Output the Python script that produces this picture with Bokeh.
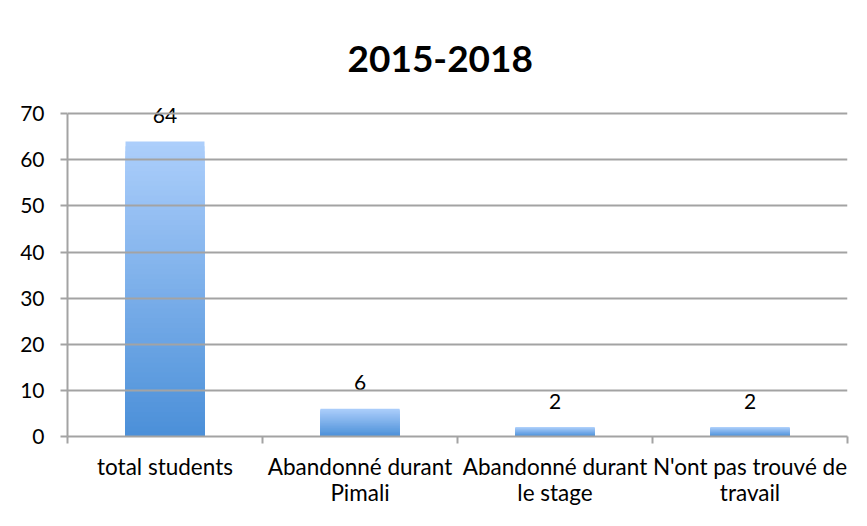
from bokeh.plotting import figure
from bokeh.models import Range1d, FixedTicker, ColumnDataSource
from bokeh.core.properties import value
from bokeh.embed import file_html
from bokeh.resources import INLINE

# ---- data ----
title_text = "2015-2018"
categories = ["total students", "Abandonné durant Pimali",
              "Abandonné durant le stage", "N'ont pas trouvé de travail"]
tick_labels = ["total students", "Abandonné durant\nPimali",
               "Abandonné durant\nle stage", "N'ont pas trouvé de\ntravail"]
values = [64, 6, 2, 2]
y_ticks = [0, 10, 20, 30, 40, 50, 60, 70]

FONT = "Lato"
GRAY = "#a3a3a3"

p = figure(width=851, height=510, output_backend="svg", toolbar_location=None,
           x_range=Range1d(0, len(categories)), y_range=Range1d(0, 72))
p.min_border_left = 67
p.min_border_right = 4
p.min_border_top = 104
p.min_border_bottom = 74
p.border_fill_color = "white"
p.background_fill_color = "white"
p.outline_line_color = None

# gradient bars (overlapping slices, lightest/tallest first)
top_rgb = (172, 206, 251)
bot_rgb = (74, 143, 216)
N = 60
xs, tops, cols = [], [], []
for k in range(N):
    frac = (N - k) / N
    c = tuple(int(round(b + (t - b) * frac)) for t, b in zip(top_rgb, bot_rgb))
    for i, v in enumerate(values):
        xs.append(i + 0.5)
        tops.append(v * frac)
        cols.append("#%02x%02x%02x" % c)
src = ColumnDataSource(dict(x=xs, top=tops, color=cols))
p.vbar(x="x", top="top", bottom=0, width=0.405, source=src,
       fill_color="color", line_color=None)

# value labels
lab = ColumnDataSource(dict(x=[i + 0.5 for i in range(len(values))], y=values,
                            t=[str(v) for v in values]))
p.text(x="x", y="y", text="t", source=lab, y_offset=-26,
       text_align="center", text_baseline="alphabetic",
       text_font=value(FONT), text_font_size="21px", text_color="black")

# grid
p.xgrid.grid_line_color = None
p.ygrid.grid_line_color = GRAY
p.ygrid.grid_line_width = 2
p.ygrid.bounds = (0, 70)
p.ygrid.level = "glyph"
p.ygrid.ticker = FixedTicker(ticks=y_ticks)

# y axis
p.yaxis.ticker = FixedTicker(ticks=y_ticks)
p.yaxis.bounds = (0, 70)
p.yaxis.axis_line_color = GRAY
p.yaxis.axis_line_width = 2
p.yaxis.major_tick_line_color = GRAY
p.yaxis.major_tick_line_width = 2
p.yaxis.major_tick_out = 7
p.yaxis.major_tick_in = 0
p.yaxis.minor_tick_line_color = None
p.yaxis.major_label_standoff = 16
p.yaxis.major_label_text_font = FONT
p.yaxis.major_label_text_font_size = "21px"
p.yaxis.major_label_text_color = "black"

# x axis: labels at centers, tick marks at boundaries
centers = [i + 0.5 for i in range(len(categories))]
bounds = [float(i) for i in range(len(categories) + 1)]
p.xaxis.ticker = FixedTicker(ticks=centers, minor_ticks=bounds)
p.xaxis.major_label_overrides = {c: l for c, l in zip(centers, tick_labels)}
p.xaxis.axis_line_color = GRAY
p.xaxis.axis_line_width = 2
p.xaxis.major_tick_line_color = None
p.xaxis.major_tick_out = 0
p.xaxis.major_tick_in = 0
p.xaxis.minor_tick_line_color = GRAY
p.xaxis.minor_tick_line_width = 2
p.xaxis.minor_tick_out = 7
p.xaxis.minor_tick_in = 0
p.xaxis.major_label_standoff = 9
p.xaxis.major_label_text_font = FONT
p.xaxis.major_label_text_font_size = "22.5px"
p.xaxis.major_label_text_color = "black"
p.xaxis.major_label_text_line_height = 0.98

# title
p.title.text = title_text
p.title.align = "left"
p.title.offset = 280
p.title.text_font = FONT
p.title.text_font_style = "bold"
p.title.text_font_size = "37px"
p.title.text_color = "black"
p.title.standoff = 65

open("out.html", "w").write(file_html(p, INLINE))
